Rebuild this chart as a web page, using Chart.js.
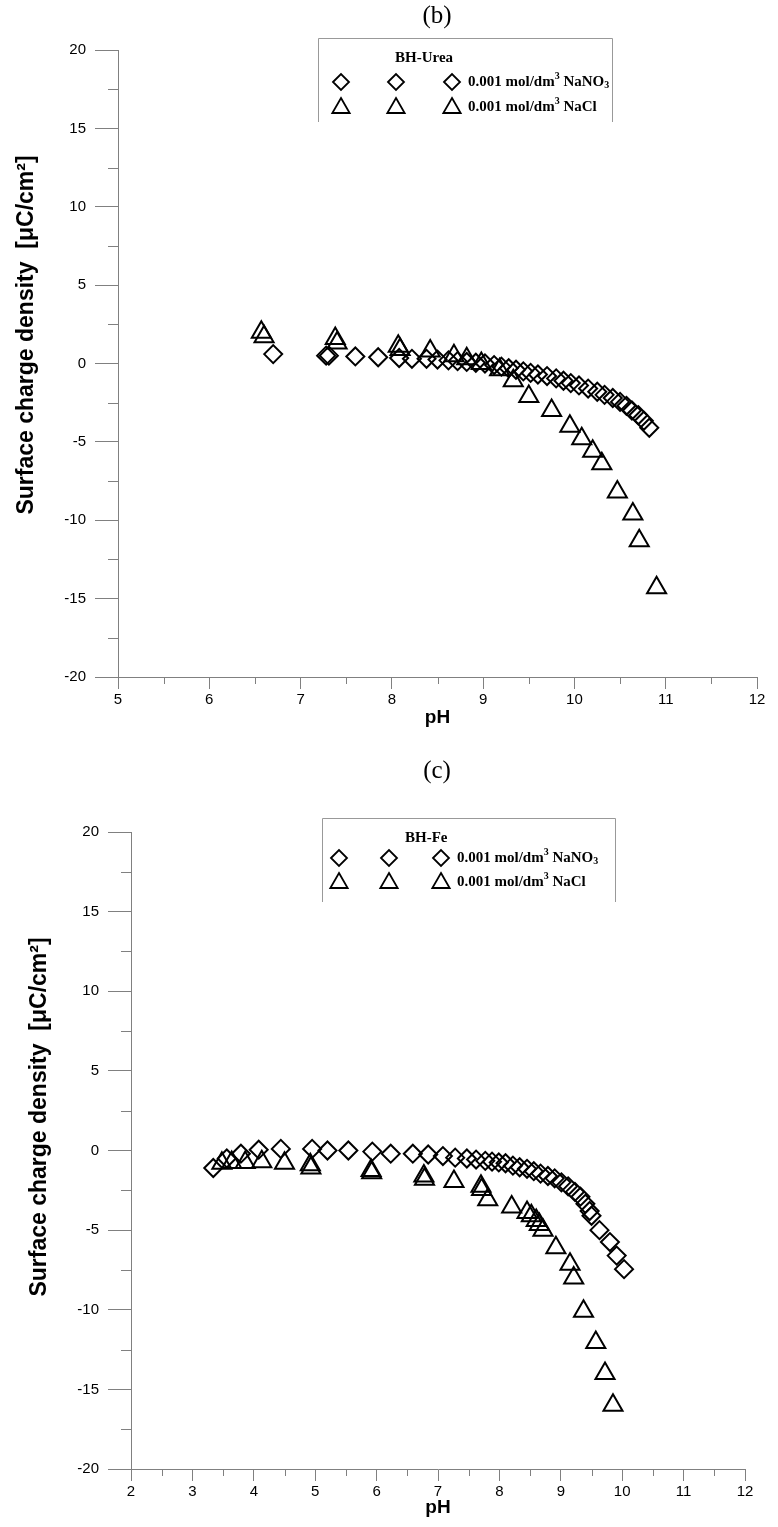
<!DOCTYPE html>
<html>
<head>
<meta charset="utf-8">
<script src="https://cdn.jsdelivr.net/npm/chart.js@4.4.1/dist/chart.umd.min.js"></script>
<style>
  body { margin: 0; background: #fff; width: 778px; height: 1527px; overflow: hidden; }
  canvas { display: block; }
</style>
</head>
<body>
<canvas id="urea-chart" width="778" height="745"></canvas>
<canvas id="fe-chart" width="778" height="782"></canvas>
<script>
// (b) BH-Urea
const ureaPhNitrate = [6.7, 7.28, 7.31, 7.6, 7.85, 8.08, 8.22, 8.38, 8.5, 8.62, 8.72, 8.82, 8.92, 9.02, 9.12, 9.2, 9.28, 9.36, 9.44, 9.52, 9.6, 9.7, 9.8, 9.88, 9.96, 10.05, 10.15, 10.25, 10.33, 10.42, 10.5, 10.57, 10.63, 10.7, 10.76, 10.82];
const ureaSigmaNitrate = [0.6, 0.5, 0.5, 0.45, 0.4, 0.35, 0.3, 0.3, 0.25, 0.2, 0.15, 0.1, 0.05, 0, -0.1, -0.2, -0.3, -0.4, -0.5, -0.6, -0.7, -0.8, -0.95, -1.1, -1.25, -1.4, -1.6, -1.8, -2.0, -2.2, -2.45, -2.7, -3.0, -3.3, -3.65, -4.1];
const ureaPhChloride = [6.57, 6.6, 7.38, 7.4, 8.07, 8.09, 8.42, 8.68, 8.82, 8.98, 9.18, 9.33, 9.5, 9.75, 9.95, 10.08, 10.2, 10.3, 10.47, 10.64, 10.71, 10.9];
const ureaSigmaChloride = [2.0, 1.7, 1.6, 1.3, 1.1, 0.9, 0.8, 0.5, 0.3, 0.0, -0.4, -1.1, -2.1, -3.0, -4.0, -4.8, -5.6, -6.4, -8.2, -9.6, -11.3, -14.3];
const ureaPhTicks = [5, 6, 7, 8, 9, 10, 11, 12];

// (c) BH-Fe
const fePhNitrate = [3.34, 3.56, 3.79, 4.08, 4.44, 4.95, 5.2, 5.54, 5.93, 6.23, 6.59, 6.84, 7.08, 7.28, 7.47, 7.62, 7.77, 7.88, 7.99, 8.1, 8.22, 8.33, 8.45, 8.56, 8.67, 8.79, 8.9, 9.01, 9.12, 9.23, 9.32, 9.4, 9.47, 9.5, 9.63, 9.8, 9.91, 10.03];
const feSigmaNitrate = [-1.1, -0.5, -0.2, 0.05, 0.1, 0.1, 0, 0, -0.07, -0.2, -0.2, -0.25, -0.35, -0.45, -0.5, -0.57, -0.65, -0.7, -0.75, -0.8, -0.95, -1.05, -1.15, -1.3, -1.45, -1.6, -1.75, -2.0, -2.25, -2.6, -2.9, -3.35, -3.8, -4.1, -5.0, -5.75, -6.6, -7.45];
const fePhChloride = [3.48, 3.64, 3.86, 4.13, 4.5, 4.92, 4.93, 5.91, 5.92, 6.77, 6.78, 7.26, 7.7, 7.71, 7.81, 8.2, 8.45, 8.52, 8.6, 8.65, 8.71, 8.92, 9.15, 9.21, 9.37, 9.57, 9.72, 9.85];
const feSigmaChloride = [-0.8, -0.75, -0.75, -0.7, -0.8, -0.9, -1.1, -1.25, -1.4, -1.6, -1.8, -1.95, -2.25, -2.45, -3.1, -3.55, -3.9, -4.1, -4.4, -4.65, -5.0, -6.1, -7.15, -8.0, -10.1, -12.05, -14.0, -16.0];
const fePhTicks = [2, 3, 4, 5, 6, 7, 8, 9, 10, 11, 12];

const sigmaTicks = [-20, -15, -10, -5, 0, 5, 10, 15, 20];

const axisGray = "#808080";
const sansFont = "'Liberation Sans', Arial, sans-serif";
const serifFont = "'Liberation Serif', 'Times New Roman', serif";

function toPoints(xs, ys) {
  return xs.map((x, i) => ({ x: x, y: ys[i] }));
}

function diamond(ctx, x, y, r) {
  ctx.beginPath();
  ctx.moveTo(x - r, y);
  ctx.lineTo(x, y - r);
  ctx.lineTo(x + r, y);
  ctx.lineTo(x, y + r);
  ctx.closePath();
  ctx.stroke();
}

function triangle(ctx, x, y, r) {
  ctx.beginPath();
  ctx.moveTo(x, y - r);
  ctx.lineTo(x + r * 0.866, y + r * 0.5);
  ctx.lineTo(x - r * 0.866, y + r * 0.5);
  ctx.closePath();
  ctx.stroke();
}

// text with superscript / subscript pieces: [text, "sup"|"sub"|undefined]
function richText(ctx, parts, x, y, size) {
  let cx = x;
  parts.forEach(p => {
    const small = p[1] ? Math.round(size * 0.65) : size;
    ctx.font = "bold " + small + "px " + serifFont;
    let dy = 0;
    if (p[1] === "sup") dy = -size * 0.35;
    if (p[1] === "sub") dy = size * 0.25;
    ctx.fillText(p[0], cx, y + dy);
    cx += ctx.measureText(p[0]).width;
  });
}

const panelPlugin = {
  id: "panel",
  afterDraw(chart, args, opts) {
    const ctx = chart.ctx;
    const xs = chart.scales.x, ys = chart.scales.y;
    ctx.save();

    // minor ticks
    ctx.strokeStyle = axisGray;
    ctx.lineWidth = 1;
    ctx.beginPath();
    for (let v = xs.min + 0.5; v < xs.max; v += 1) {
      const px = Math.round(xs.getPixelForValue(v)) + 0.5;
      ctx.moveTo(px, ys.bottom);
      ctx.lineTo(px, ys.bottom + 7);
    }
    for (let v = ys.min + 2.5; v < ys.max; v += 5) {
      const py = Math.round(ys.getPixelForValue(v)) + 0.5;
      ctx.moveTo(xs.left - 10, py);
      ctx.lineTo(xs.left, py);
    }
    ctx.stroke();

    // y axis title
    ctx.fillStyle = "#000";
    ctx.save();
    ctx.translate(opts.yTitleX, opts.yTitleY);
    ctx.rotate(-Math.PI / 2);
    ctx.font = "bold 23px " + sansFont;
    ctx.textAlign = "center";
    ctx.textBaseline = "middle";
    ctx.fillText("Surface charge density  [μC/cm²]", 0, 0);
    ctx.restore();

    // panel letter
    ctx.font = "25px " + serifFont;
    ctx.textAlign = "center";
    ctx.textBaseline = "middle";
    ctx.fillText(opts.letter, opts.letterX, opts.letterY);

    // legend box
    const b = opts.box;
    ctx.strokeStyle = "#999";
    ctx.beginPath();
    ctx.moveTo(b.left + 0.5, b.bottom);
    ctx.lineTo(b.left + 0.5, b.top + 0.5);
    ctx.lineTo(b.right + 0.5, b.top + 0.5);
    ctx.lineTo(b.right + 0.5, b.bottom);
    ctx.stroke();

    ctx.font = "bold 15px " + serifFont;
    ctx.textAlign = "left";
    ctx.fillText(opts.name, opts.nameX, opts.nameY);

    ctx.strokeStyle = "#000";
    ctx.lineWidth = 1.8;
    opts.markerX.forEach(mx => {
      diamond(ctx, mx, opts.rowY[0], 8);
      triangle(ctx, mx, opts.rowY[1] + 1, 10);
    });
    richText(ctx, [["0.001 mol/dm"], ["3", "sup"], [" NaNO"], ["3", "sub"]], opts.textX, opts.rowY[0], 15);
    richText(ctx, [["0.001 mol/dm"], ["3", "sup"], [" NaCl"]], opts.textX, opts.rowY[1], 15);

    ctx.restore();
  }
};

function makeChart(canvas, cfg) {
  return new Chart(canvas, {
    type: "scatter",
    data: {
      datasets: [
        {
          label: "0.001 mol/dm³ NaNO₃",
          data: toPoints(cfg.phNitrate, cfg.sigmaNitrate),
          pointStyle: "rectRot",
          pointRadius: 9,
          pointBorderWidth: 2,
          pointBorderColor: "#000",
          pointBackgroundColor: "rgba(0,0,0,0)",
        },
        {
          label: "0.001 mol/dm³ NaCl",
          data: toPoints(cfg.phChloride, cfg.sigmaChloride),
          pointStyle: "triangle",
          pointRadius: 11,
          pointBorderWidth: 2,
          pointBorderColor: "#000",
          pointBackgroundColor: "rgba(0,0,0,0)",
        },
      ],
    },
    options: {
      responsive: false,
      animation: false,
      events: [],
      layout: { padding: { top: cfg.top, right: cfg.right, left: 0, bottom: 0 } },
      plugins: {
        legend: { display: false },
        tooltip: { enabled: false },
        panel: cfg.panel,
      },
      scales: {
        x: {
          type: "linear",
          min: cfg.phTicks[0],
          max: cfg.phTicks[cfg.phTicks.length - 1],
          afterFit: s => { s.height = cfg.xHeight; },
          afterBuildTicks: s => { s.ticks = cfg.phTicks.map(v => ({ value: v })); },
          ticks: { color: "#000", font: { family: sansFont, size: 15 }, padding: 2, maxRotation: 0 },
          grid: { drawOnChartArea: false, tickLength: 12, color: axisGray, tickColor: axisGray },
          border: { color: axisGray, width: 1 },
          title: { display: true, text: "pH", color: "#000", font: { family: sansFont, size: 19, weight: "bold" }, padding: { top: 0, bottom: cfg.xTitlePad } },
        },
        y: {
          min: -20,
          max: 20,
          afterFit: s => { s.width = cfg.yWidth; },
          afterBuildTicks: s => { s.ticks = sigmaTicks.map(v => ({ value: v })); },
          ticks: { color: "#000", font: { family: sansFont, size: 15 }, padding: 9 },
          grid: { drawOnChartArea: false, tickLength: 23, color: axisGray, tickColor: axisGray },
          border: { color: axisGray, width: 1 },
        },
      },
    },
    plugins: [panelPlugin],
  });
}

makeChart(document.getElementById("urea-chart"), {
  phNitrate: ureaPhNitrate, sigmaNitrate: ureaSigmaNitrate,
  phChloride: ureaPhChloride, sigmaChloride: ureaSigmaChloride,
  phTicks: ureaPhTicks,
  top: 50, right: 21, yWidth: 118, xHeight: 68, xTitlePad: 16,
  panel: {
    letter: "(b)", letterX: 437, letterY: 16,
    yTitleX: 27, yTitleY: 335,
    box: { left: 318, right: 612, top: 38, bottom: 122 },
    name: "BH-Urea", nameX: 395, nameY: 58,
    markerX: [341, 396, 452], rowY: [82, 107], textX: 468,
  },
});

makeChart(document.getElementById("fe-chart"), {
  phNitrate: fePhNitrate, sigmaNitrate: feSigmaNitrate,
  phChloride: fePhChloride, sigmaChloride: feSigmaChloride,
  phTicks: fePhTicks,
  top: 87, right: 33, yWidth: 131, xHeight: 58, xTitlePad: 8,
  panel: {
    letter: "(c)", letterX: 437, letterY: 26,
    yTitleX: 40, yTitleY: 372,
    box: { left: 322, right: 615, top: 73, bottom: 157 },
    name: "BH-Fe", nameX: 405, nameY: 93,
    markerX: [339, 389, 441], rowY: [113, 137], textX: 457,
  },
});
</script>
</body>
</html>
